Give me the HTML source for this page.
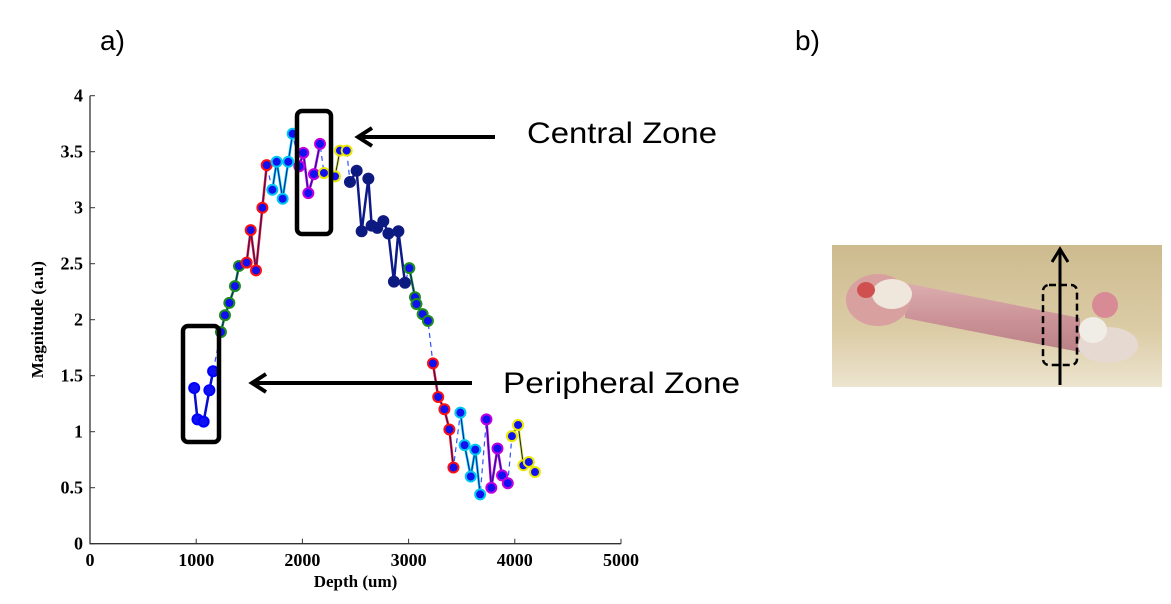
<!DOCTYPE html>
<html><head><meta charset="utf-8"><style>
body{margin:0;background:#fff;width:1171px;height:604px;overflow:hidden;font-family:"Liberation Sans",sans-serif}
svg{position:absolute;left:0;top:0}
</style></head><body>
<svg width="1171" height="604">
<defs>
<linearGradient id="bg" x1="0" y1="0" x2="0" y2="1"><stop offset="0" stop-color="#cdbb8f"/><stop offset="0.6" stop-color="#dccca6"/><stop offset="1" stop-color="#ece4cf"/></linearGradient>
<linearGradient id="shaft" x1="0" y1="0" x2="0" y2="1"><stop offset="0" stop-color="#dcaeae"/><stop offset="0.5" stop-color="#cc9498"/><stop offset="1" stop-color="#b98085"/></linearGradient>
</defs>
<text x="100" y="50" font-size="28" font-family="Liberation Sans">a)</text>
<text x="795" y="50" font-size="28" font-family="Liberation Sans">b)</text>
<g id="chart"></g>
<g>
<rect x="183" y="326" width="36" height="116" rx="5" fill="none" stroke="#000" stroke-width="4.5"/>
<rect x="297" y="111" width="34" height="123" rx="5" fill="none" stroke="#000" stroke-width="4.5"/>
<line x1="495" y1="137" x2="362" y2="137" stroke="#000" stroke-width="4"/>
<polyline points="372,128 358,137 372,146" fill="none" stroke="#000" stroke-width="4"/>
<line x1="472" y1="383" x2="256" y2="383" stroke="#000" stroke-width="4"/>
<polyline points="266,374 252,383 266,392" fill="none" stroke="#000" stroke-width="4"/>
<text x="527" y="143" font-size="30" textLength="190" lengthAdjust="spacingAndGlyphs">Central Zone</text>
<text x="503" y="393" font-size="30" textLength="237" lengthAdjust="spacingAndGlyphs">Peripheral Zone</text>
</g>
<g>
<rect x="832" y="245" width="330" height="142" fill="url(#bg)"/>
<path d="M905,283 Q990,300 1080,318 L1080,352 Q990,335 905,318 Z" fill="url(#shaft)"/>
<ellipse cx="878" cy="300" rx="32" ry="26" fill="#d9a0a0"/>
<ellipse cx="892" cy="294" rx="20" ry="15" fill="#efe6dc"/>
<ellipse cx="866" cy="290" rx="9" ry="8" fill="#d05050"/>
<ellipse cx="1108" cy="345" rx="30" ry="18" fill="#e6d9d2"/>
<ellipse cx="1093" cy="330" rx="14" ry="13" fill="#f0ece6"/>
<circle cx="1105" cy="305" r="13" fill="#d88a95"/>
<line x1="1060" y1="385" x2="1060" y2="252" stroke="#000" stroke-width="3"/>
<polyline points="1052,262 1060,249 1068,262" fill="none" stroke="#000" stroke-width="3"/>
<rect x="1043" y="285" width="34" height="80" rx="6" fill="none" stroke="#000" stroke-width="2.5" stroke-dasharray="7,4"/>
</g>
</svg>
<script>
const xTicks=[0,1000,2000,3000,4000,5000];
const yTicks=[0,0.5,1,1.5,2,2.5,3,3.5,4];
const yTickLabels=["0","0.5","1","1.5","2","2.5","3","3.5","4"];
const groupColors=["#0000ff","#1e8c1e","#ff1010","#00c8f0","#c000e0","#e8e800","#101a80","#1e8c1e","#ff1010","#00c8f0","#c000e0","#e8e800"];
const depthG=[[981,1012,1070,1124,1159],[1233,1271,1312,1365,1403],[1475,1513,1563,1623,1664],[1717,1758,1814,1867,1908],[1971,2009,2056,2109,2166],[2203,2307,2354,2417],[2448,2511,2558,2621,2652,2705,2762,2810,2862,2904,2966],[3007,3060,3074,3132,3182],[3229,3279,3337,3384,3422],[3488,3527,3585,3628,3674],[3733,3779,3837,3880,3934],[3973,4031,4081,4132,4190]];
const magG=[[1.39,1.11,1.09,1.37,1.54],[1.89,2.04,2.15,2.30,2.48],[2.51,2.80,2.44,3.0,3.38],[3.16,3.41,3.08,3.41,3.66],[3.37,3.49,3.13,3.30,3.57],[3.31,3.28,3.51,3.51],[3.23,3.33,2.79,3.26,2.84,2.82,2.88,2.77,2.34,2.79,2.33],[2.46,2.20,2.14,2.05,1.99],[1.61,1.31,1.20,1.02,0.68],[1.17,0.88,0.60,0.84,0.44],[1.11,0.50,0.85,0.61,0.54],[0.96,1.06,0.70,0.73,0.64]];
const NS="http://www.w3.org/2000/svg";
const X=v=>90+v*0.1062, Y=v=>543.7-v*112;
const g=document.getElementById('chart');
function mk(t,a,p){const e=document.createElementNS(NS,t);for(const k in a)e.setAttribute(k,a[k]);(p||g).appendChild(e);return e;}
let ax=mk('path',{d:`M${X(0)},${Y(4)} L${X(0)},${Y(0)} L${X(5000)},${Y(0)}`,fill:'none',stroke:'#333','stroke-width':1.3});


xTicks.forEach(t=>{mk('line',{x1:X(t),x2:X(t),y1:Y(0),y2:Y(0)-5,stroke:'#333'});
 const tx=mk('text',{x:X(t),y:566,'text-anchor':'middle','font-family':'Liberation Serif','font-weight':'bold','font-size':18});tx.textContent=t;
 
 });
yTicks.forEach((t,i)=>{mk('line',{x1:X(0),x2:X(0)+5,y1:Y(t),y2:Y(t),stroke:'#333'});
 const tx=mk('text',{x:83,y:Y(t)+6,'text-anchor':'end','font-family':'Liberation Serif','font-weight':'bold','font-size':18});tx.textContent=yTickLabels[i];
 
 });
const xt=mk('text',{x:X(2500),y:587,'text-anchor':'middle','font-family':'Liberation Serif','font-weight':'bold','font-size':17});xt.textContent='Depth (um)';


const yt=mk('text',{x:0,y:0,transform:`translate(43,${Y(2)}) rotate(-90)`,'text-anchor':'middle','font-family':'Liberation Serif','font-weight':'bold','font-size':17});yt.textContent='Magnitude (a.u)';


let all=[];depthG.forEach((d,i)=>d.forEach((v,j)=>all.push([X(v),Y(magG[i][j])])));
const dl=mk('polyline',{points:all.map(p=>p.join(',')).join(' '),fill:'none',stroke:'#3050ff','stroke-width':1.2,'stroke-dasharray':'5,4'});


depthG.forEach((d,i)=>{
 const pts=d.map((v,j)=>[X(v),Y(magG[i][j])]);
 const c=groupColors[i];
 const pl=mk('polyline',{points:pts.map(p=>p.join(',')).join(' '),fill:'none',stroke:c,'stroke-width':2.5});
 
 
 mk('polyline',{points:pts.map(p=>p.join(',')).join(' '),fill:'none',stroke:'#0a1a90','stroke-width':1});
 pts.forEach(p=>{const m=mk('circle',{cx:p[0],cy:p[1],r:5,fill:i==6?'#0a1a80':'#1010f0',stroke:c,'stroke-width':2});
  
  });
});
</script>
</body></html>
